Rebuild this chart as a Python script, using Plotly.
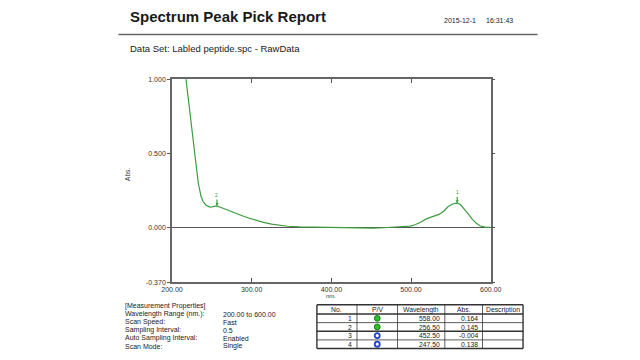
import plotly.graph_objects as go

W, H = 640, 360
OFF = 8  # page body margin offset observed in the renderer
FONT = "Liberation Sans, Arial, sans-serif"

# ---- spectrum ----
wavelength = [215, 218, 220, 222.5, 224.5, 226.5, 228.5, 230.5, 233, 236.5, 239, 242.5, 245,
              247.5, 250, 253, 256.5, 260, 265, 272, 280, 289, 297, 305, 315, 325, 335, 345,
              360, 375, 390, 405, 420, 435, 452.5, 465, 478, 490, 499, 505, 512, 519, 527,
              535, 541, 547, 553, 558, 562, 567, 572, 577, 582, 587, 593, 600]
absorbance = [1.12, 0.98, 0.88, 0.78, 0.67, 0.56, 0.47, 0.385, 0.30, 0.21, 0.175, 0.152, 0.142,
              0.138, 0.139, 0.142, 0.145, 0.138, 0.127, 0.110, 0.093, 0.077, 0.062, 0.048, 0.034,
              0.022, 0.014, 0.008, 0.004, 0.002, 0.001, 0.000, -0.002, -0.003, -0.004, -0.002,
              0.002, 0.005, 0.009, 0.018, 0.035, 0.058, 0.075, 0.088, 0.110, 0.143, 0.160, 0.164,
              0.155, 0.125, 0.090, 0.055, 0.028, 0.010, 0.002, 0.000]

x_ticks = [200, 300, 400, 500, 600]
x_tick_labels = ["200.00", "300.00", "400.00", "500.00", "600.00"]
y_ticks = [-0.37, 0.0, 0.5, 1.0]
y_tick_labels = ["-0.370", "0.000", "0.500", "1.000"]

# ---- peak table ----
peak_no = [1, 2, 3, 4]
peak_type = ["P", "P", "V", "V"]
peak_wl = [558.00, 256.50, 452.50, 247.50]
peak_abs = [0.164, 0.145, -0.004, 0.138]
table_header = ["No.", "P/V", "Wavelength", "Abs.", "Description"]

# ---- measurement properties ----
prop_names = ["[Measurement Properties]", "Wavelength Range (nm.):", "Scan Speed:",
              "Sampling Interval:", "Auto Sampling Interval:", "Scan Mode:"]
prop_values = ["", "200.00 to 600.00", "Fast", "0.5", "Enabled", "Single"]

GREEN = "#3f9b3f"


def px(x):
    return (x - OFF) / W


def py(y):
    return 1 - (y - OFF) / H


fig = go.Figure()
fig.add_trace(go.Scatter(x=wavelength, y=absorbance, mode="lines",
                         line=dict(color=GREEN, width=1.2), hoverinfo="skip"))

annotations = []
shapes = []


def text(x, y, s, size, anchor="left", bold=False, color="#1a1a1a", angle=0):
    annotations.append(dict(x=px(x), y=py(y), xref="paper", yref="paper", text=s,
                            showarrow=False, xanchor=anchor, yanchor="middle",
                            textangle=angle,
                            font=dict(family=FONT, size=size, color=color,
                                      weight="bold" if bold else "normal")))


def hline(x0, x1, y, color, width):
    shapes.append(dict(type="line", xref="paper", yref="paper", x0=px(x0), x1=px(x1),
                       y0=py(y), y1=py(y), line=dict(color=color, width=width)))


def vline(x, y0, y1, color, width):
    shapes.append(dict(type="line", xref="paper", yref="paper", x0=px(x), x1=px(x),
                       y0=py(y0), y1=py(y1), line=dict(color=color, width=width)))


def dot(x, y, r, fill, line_color, line_width):
    shapes.append(dict(type="circle", xref="paper", yref="paper",
                       x0=px(x - r), x1=px(x + r), y0=py(y + r), y1=py(y - r),
                       fillcolor=fill, line=dict(color=line_color, width=line_width)))


# header
text(121, 12.5, "Spectrum Peak Pick Report", 15, bold=True)
text(446, 17, "2015-12-1", 7)
text(490, 17, "16:31:43", 7)
hline(111, 545, 31, "#666", 1.5)
text(121, 45, "Data Set: Labled peptide.spc - RawData", 9.5)
text(121, 174, "Abs.", 6.5, anchor="center", angle=-90, color="#333")
text(331, 298, "nm.", 6, anchor="center", color="#333")

# measurement properties
for i, (n, v) in enumerate(zip(prop_names, prop_values)):
    yy = 308 + 8.2 * i
    text(116, yy, n, 7, color="#222")
    if v:
        text(217, yy, v, 7, color="#222")

# peak table (drawn as lines + text)
col_edges = [316.5, 358, 400, 449, 488, 530]
row_edges = [306.5, 316, 324.8, 333.6, 342.4, 351.2]
for k, ye in enumerate(row_edges):
    thick = k in (0, 1, 3, len(row_edges) - 1)
    hline(col_edges[0], col_edges[-1], ye, "#333", 1.4 if thick else 0.8)
for k, xe in enumerate(col_edges):
    thick = k in (0, len(col_edges) - 1)
    vline(xe, row_edges[0], row_edges[-1], "#333", 1.4 if thick else 0.8)

for j, h in enumerate(table_header):
    text((col_edges[j] + col_edges[j + 1]) / 2, (row_edges[0] + row_edges[1]) / 2 + 0.3, h, 6.8,
         anchor="center", color="#222")

for i, (n, t, wl, ab) in enumerate(zip(peak_no, peak_type, peak_wl, peak_abs)):
    yc = (row_edges[i + 1] + row_edges[i + 2]) / 2 + 0.3
    xc = (col_edges[1] + col_edges[2]) / 2
    text(col_edges[1] - 3, yc, str(n), 6.8, anchor="right", color="#222")
    if t == "P":
        dot(xc, yc - 0.3, 3.0, "#2cc02c", "#1a7a1a", 1)
    else:
        dot(xc, yc - 0.3, 2.6, "white", "#1f3fd8", 1.8)
    text(col_edges[3] - 3, yc, f"{wl:.2f}", 6.8, anchor="right", color="#222")
    text(col_edges[4] - 3, yc, f"{ab:.3f}", 6.8, anchor="right", color="#222")

# peak markers on the spectrum
for lbl, t, wl, ab in zip(peak_no, peak_type, peak_wl, peak_abs):
    if t == "P":
        annotations.append(dict(x=wl, y=ab, xref="x", yref="y", text=str(lbl),
                                showarrow=True, arrowhead=2, arrowsize=0.5, arrowwidth=1.2,
                                arrowcolor=GREEN, ax=0, ay=-11,
                                font=dict(family=FONT, size=5, color=GREEN)))

fig.update_layout(
    width=W, height=H, margin=dict(l=0, r=0, t=0, b=0),
    paper_bgcolor="white", plot_bgcolor="white", showlegend=False,
    font=dict(family=FONT),
    annotations=annotations, shapes=shapes,
    xaxis=dict(domain=[px(166.4), px(496.5)], range=[200, 600], tickvals=x_ticks,
               ticktext=x_tick_labels, ticks="inside", ticklen=4, tickcolor="#555",
               showline=True, linecolor="#666", linewidth=1.5, mirror="ticks",
               showgrid=False, zeroline=False,
               tickfont=dict(family=FONT, size=7, color="#333")),
    yaxis=dict(domain=[py(283.6), py(76.7)], range=[-0.37, 1.0], tickvals=y_ticks,
               ticktext=y_tick_labels, ticks="outside", ticklen=3, tickcolor="#555",
               showline=True, linecolor="#666", linewidth=1.5, mirror="ticks",
               showgrid=False, zeroline=True, zerolinecolor="#555", zerolinewidth=1.3,
               tickfont=dict(family=FONT, size=7, color="#333")),
)

fig.write_html("out.html")
